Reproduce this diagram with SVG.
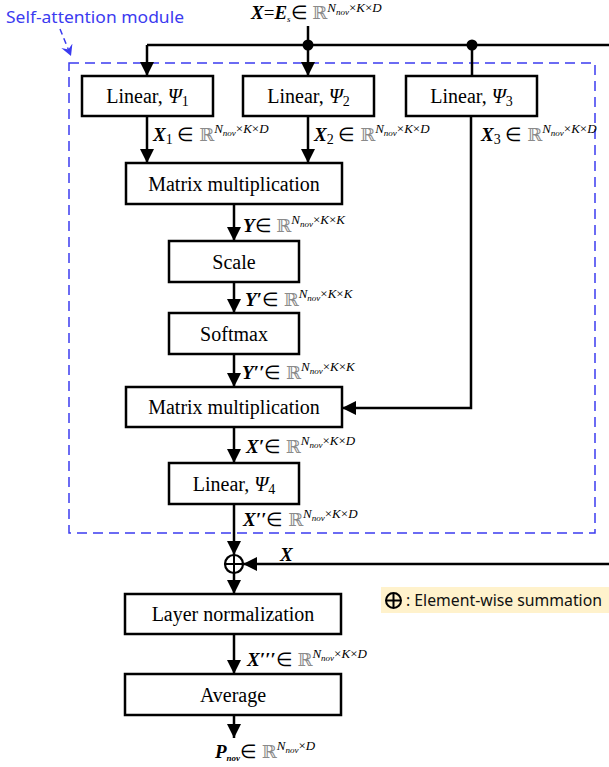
<svg xmlns="http://www.w3.org/2000/svg" width="609" height="767" viewBox="0 0 609 767">
<style>
.box{fill:#fff;stroke:#000;stroke-width:2.5}
.bt{font-family:"Liberation Serif","Times New Roman",serif;font-size:20px;fill:#000;text-anchor:middle}
.ln{fill:none;stroke:#000;stroke-width:2.5}
.m{font-family:"Liberation Serif","Times New Roman",serif;font-size:19px;fill:#000}
.bi{font-weight:bold;font-style:italic}
.it{font-style:italic}
.R{font-family:"DejaVu Serif",serif;fill:#8a8a8a;font-size:18px}
.sup{font-size:13px}
.ss{font-size:9px;font-style:italic}
.sb{font-size:14px}
.blue{font-family:"Noto Sans","Open Sans",sans-serif;font-size:17px;fill:#3b3bf0}
.leg{font-family:"Noto Sans","Open Sans",sans-serif;font-size:16px;fill:#111}
</style>
<defs>
<marker id="ah" markerUnits="userSpaceOnUse" markerWidth="14" markerHeight="14" refX="14" refY="7" orient="auto" viewBox="0 0 14 14">
<path d="M0,0 L14,7 L0,14 z" fill="#000"/>
</marker>
<marker id="bh" markerUnits="userSpaceOnUse" markerWidth="12" markerHeight="12" refX="11" refY="6" orient="auto" viewBox="0 0 12 12">
<path d="M0,0 L11,6 L0,12 L4,6 z" fill="#3b3bf0"/>
</marker>
</defs>

<g id="self-attention-module">
<rect x="69" y="63" width="526" height="470" fill="none" stroke="#3b3bf0" stroke-width="1.5" stroke-dasharray="10 6"/>
<text class="blue" x="6" y="23" textLength="178" lengthAdjust="spacingAndGlyphs">Self-attention module</text>
<path d="M60,29 L71,56" fill="none" stroke="#3b3bf0" stroke-width="1.5" stroke-dasharray="6 4" marker-end="url(#bh)"/>
</g>

<g id="connectors">
<path class="ln" d="M308,26 V45"/>
<path class="ln" d="M147,45 H609"/>
<path class="ln" d="M147,45 V76" marker-end="url(#ah)"/>
<path class="ln" d="M308,45 V76" marker-end="url(#ah)"/>
<path class="ln" d="M472,45 V76"/>
<circle cx="308" cy="45" r="5.5" fill="#000"/>
<circle cx="472" cy="45" r="5.5" fill="#000"/>
<path class="ln" d="M147,116 V163" marker-end="url(#ah)"/>
<path class="ln" d="M308,116 V163" marker-end="url(#ah)"/>
<path class="ln" d="M471,116 V408 H342" marker-end="url(#ah)"/>
<path class="ln" d="M234,204 V241" marker-end="url(#ah)"/>
<path class="ln" d="M234,282 V313" marker-end="url(#ah)"/>
<path class="ln" d="M234,354 V387" marker-end="url(#ah)"/>
<path class="ln" d="M234,427 V463" marker-end="url(#ah)"/>
<path class="ln" d="M234,504 V555" marker-end="url(#ah)"/>
<path class="ln" d="M609,564 H243" marker-end="url(#ah)"/>
<path class="ln" d="M234,573 V594" marker-end="url(#ah)"/>
<path class="ln" d="M234,634 V674" marker-end="url(#ah)"/>
<path class="ln" d="M234,715 V738" marker-end="url(#ah)"/>
</g>

<g id="labels">
<text class="m" x="251" y="19"><tspan class="bi">X</tspan>=<tspan class="bi">E</tspan><tspan class="ss" dy="3" font-size="11px">s</tspan><tspan dy="-3">∈ </tspan><tspan class="R">ℝ</tspan><tspan class="sup it" dy="-7">N</tspan><tspan class="ss" dy="3">nov</tspan><tspan class="sup" dy="-3">×<tspan class="it">K</tspan>×<tspan class="it">D</tspan></tspan></text>
<text class="m" x="153" y="141"><tspan class="bi">X</tspan><tspan class="sb" dy="3">1</tspan><tspan dy="-3"> ∈ </tspan><tspan class="R">ℝ</tspan><tspan class="sup it" dy="-8">N</tspan><tspan class="ss" dy="3">nov</tspan><tspan class="sup" dy="-3">×<tspan class="it">K</tspan>×<tspan class="it">D</tspan></tspan></text>
<text class="m" x="314" y="141"><tspan class="bi">X</tspan><tspan class="sb" dy="3">2</tspan><tspan dy="-3"> ∈ </tspan><tspan class="R">ℝ</tspan><tspan class="sup it" dy="-8">N</tspan><tspan class="ss" dy="3">nov</tspan><tspan class="sup" dy="-3">×<tspan class="it">K</tspan>×<tspan class="it">D</tspan></tspan></text>
<text class="m" x="481" y="141"><tspan class="bi">X</tspan><tspan class="sb" dy="3">3</tspan><tspan dy="-3"> ∈ </tspan><tspan class="R">ℝ</tspan><tspan class="sup it" dy="-8">N</tspan><tspan class="ss" dy="3">nov</tspan><tspan class="sup" dy="-3">×<tspan class="it">K</tspan>×<tspan class="it">D</tspan></tspan></text>
<text class="m" x="243" y="232"><tspan class="bi">Y</tspan>∈ <tspan class="R">ℝ</tspan><tspan class="sup it" dy="-8">N</tspan><tspan class="ss" dy="3">nov</tspan><tspan class="sup" dy="-3">×<tspan class="it">K</tspan>×<tspan class="it">K</tspan></tspan></text>
<text class="m" x="245" y="306"><tspan class="bi">Y′</tspan>∈ <tspan class="R">ℝ</tspan><tspan class="sup it" dy="-8">N</tspan><tspan class="ss" dy="3">nov</tspan><tspan class="sup" dy="-3">×<tspan class="it">K</tspan>×<tspan class="it">K</tspan></tspan></text>
<text class="m" x="242" y="379"><tspan class="bi">Y′′</tspan>∈ <tspan class="R">ℝ</tspan><tspan class="sup it" dy="-8">N</tspan><tspan class="ss" dy="3">nov</tspan><tspan class="sup" dy="-3">×<tspan class="it">K</tspan>×<tspan class="it">K</tspan></tspan></text>
<text class="m" x="246" y="453"><tspan class="bi">X′</tspan>∈ <tspan class="R">ℝ</tspan><tspan class="sup it" dy="-8">N</tspan><tspan class="ss" dy="3">nov</tspan><tspan class="sup" dy="-3">×<tspan class="it">K</tspan>×<tspan class="it">D</tspan></tspan></text>
<text class="m" x="243" y="526"><tspan class="bi">X′′</tspan>∈ <tspan class="R">ℝ</tspan><tspan class="sup it" dy="-8">N</tspan><tspan class="ss" dy="3">nov</tspan><tspan class="sup" dy="-3">×<tspan class="it">K</tspan>×<tspan class="it">D</tspan></tspan></text>
<text class="m" x="280" y="561"><tspan class="bi">X</tspan></text>
<text class="m" x="247" y="666"><tspan class="bi">X′′′</tspan>∈ <tspan class="R">ℝ</tspan><tspan class="sup it" dy="-8">N</tspan><tspan class="ss" dy="3">nov</tspan><tspan class="sup" dy="-3">×<tspan class="it">K</tspan>×<tspan class="it">D</tspan></tspan></text>
<text class="m" x="215" y="758"><tspan class="bi">P</tspan><tspan class="ss" dy="3" font-size="12px" font-weight="bold">nov</tspan><tspan dy="-3">∈ </tspan><tspan class="R">ℝ</tspan><tspan class="sup it" dy="-8">N</tspan><tspan class="ss" dy="3">nov</tspan><tspan class="sup" dy="-3">×<tspan class="it">D</tspan></tspan></text>
</g>

<g id="linear1"><rect class="box" x="82" y="76" width="131" height="40"/><text class="bt" x="147.5" y="103">Linear, <tspan class="it">Ψ</tspan><tspan class="sb" dy="3">1</tspan></text></g>
<g id="linear2"><rect class="box" x="243" y="76" width="131" height="40"/><text class="bt" x="308.5" y="103">Linear, <tspan class="it">Ψ</tspan><tspan class="sb" dy="3">2</tspan></text></g>
<g id="linear3"><rect class="box" x="406" y="76" width="131" height="40"/><text class="bt" x="471.5" y="103">Linear, <tspan class="it">Ψ</tspan><tspan class="sb" dy="3">3</tspan></text></g>
<g id="matmul1"><rect class="box" x="126" y="163" width="216" height="41"/><text class="bt" x="234" y="190.5">Matrix multiplication</text></g>
<g id="scale"><rect class="box" x="169" y="241" width="130" height="41"/><text class="bt" x="234" y="268.5">Scale</text></g>
<g id="softmax"><rect class="box" x="169" y="313" width="130" height="41"/><text class="bt" x="234" y="340.5">Softmax</text></g>
<g id="matmul2"><rect class="box" x="126" y="387" width="216" height="40"/><text class="bt" x="234" y="414">Matrix multiplication</text></g>
<g id="linear4"><rect class="box" x="169" y="463" width="130" height="41"/><text class="bt" x="234" y="490.5">Linear, <tspan class="it">Ψ</tspan><tspan class="sb" dy="3">4</tspan></text></g>
<g id="sum">
<circle cx="234" cy="564" r="9" fill="#fff" stroke="#000" stroke-width="2.2"/>
<path d="M225,564 H243 M234,555 V573" stroke="#000" stroke-width="2"/>
</g>
<g id="layernorm"><rect class="box" x="125" y="594" width="216" height="40"/><text class="bt" x="233" y="621">Layer normalization</text></g>
<g id="average"><rect class="box" x="125" y="674" width="216" height="41"/><text class="bt" x="233" y="701.5">Average</text></g>

<g id="legend">
<rect x="381" y="587" width="228" height="26" fill="#fff2cc"/>
<circle cx="393.5" cy="600.5" r="7.5" fill="none" stroke="#000" stroke-width="2"/>
<path d="M386,600.5 H401 M393.5,593 V608" stroke="#000" stroke-width="2"/>
<text class="leg" x="406" y="606" textLength="196" lengthAdjust="spacingAndGlyphs">: Element-wise summation</text>
</g>
</svg>
